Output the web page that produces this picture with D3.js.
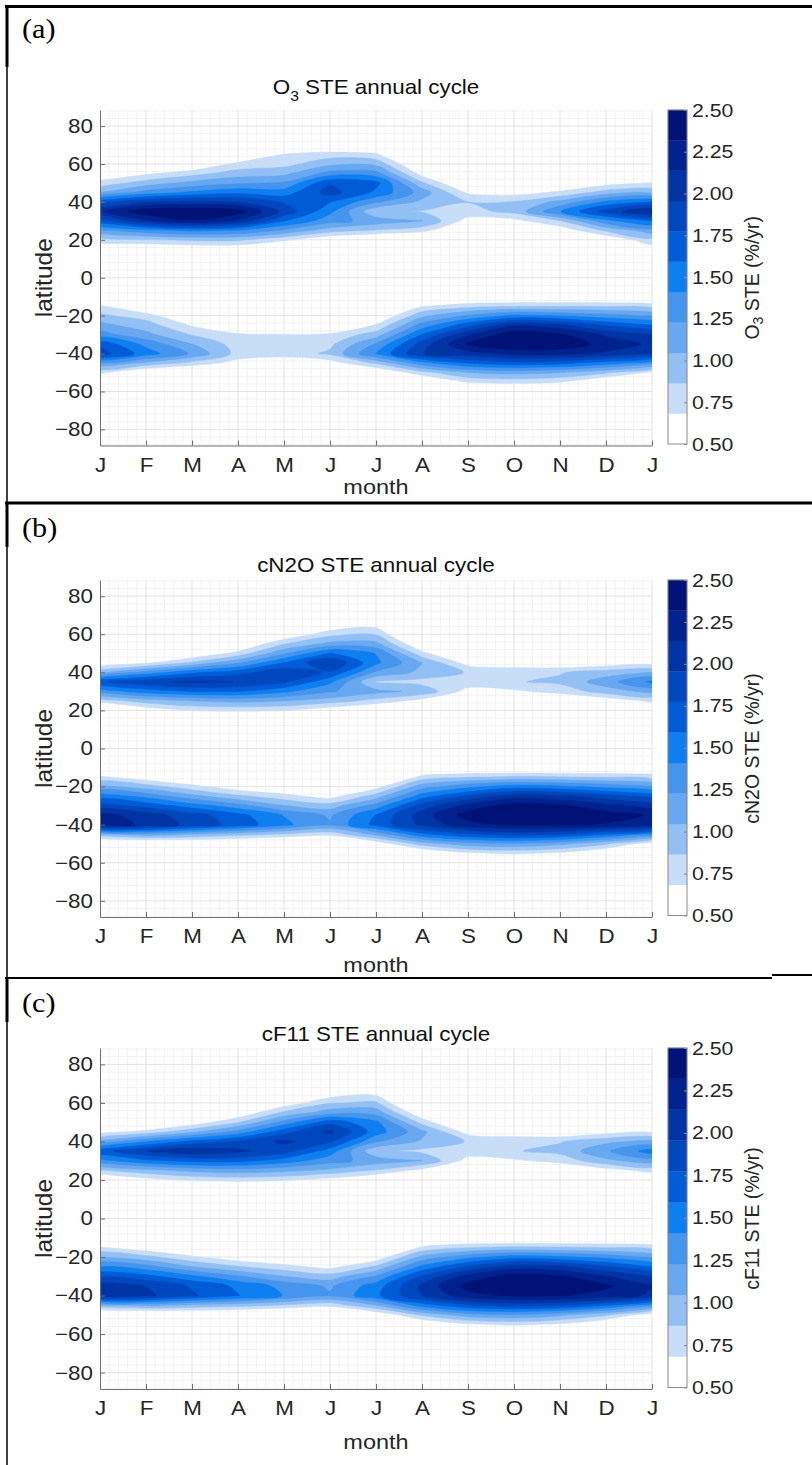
<!DOCTYPE html>
<html>
<head>
<meta charset="utf-8">
<script src="https://cdn.jsdelivr.net/npm/d3@7"></script>
<style>
  body { margin: 0; background: #fff; }
  svg text { font-family: "Liberation Sans", Arial, Helvetica, sans-serif; fill: #262626; }
</style>
</head>
<body>
<script>
// month tick labels (J ... J) and latitude ticks
const months = ['J', 'F', 'M', 'A', 'M', 'J', 'J', 'A', 'S', 'O', 'N', 'D', 'J'];
const latTicks = [80, 60, 40, 20, 0, -20, -40, -60, -80];
const cbTicks = [0.5, 0.75, 1, 1.25, 1.5, 1.75, 2, 2.25, 2.5];

// contour levels (11 filled bands between 0.5 and 2.5) and their colours
const levels = [0.5, 0.682, 0.864, 1.045, 1.227, 1.409, 1.591, 1.773, 1.955, 2.136, 2.318, 2.5];
const bandColors = ['#ffffff', '#c8ddf8', '#93c0f4', '#68a8f0', '#4594ee', '#0e7ff1',
                    '#005bd6', '#0047bd', '#0034a4', '#00228e', '#001277'];

// grid of the fields: columns = month (0 = J ... 12 = J), rows = latitude
const gridMonths = [0, 1, 2, 3, 4, 5, 6, 7, 8, 9, 10, 11, 12];
const gridLats = [75, 70, 65, 60, 55, 50, 45, 40, 35, 30, 25, 20, 15, 10, 5, 0,
                  -5, -10, -15, -20, -25, -30, -35, -40, -45, -50, -55, -60, -65];

// (a) O3 STE (%/yr)
const o3Rows = [
  [0, 0, 0, 0, 0, 0.1, 0, 0, 0, 0, 0, 0, 0],
  [0, 0, 0, 0.1, 0.3, 0.4, 0.35, 0, 0, 0, 0, 0, 0],
  [0, 0.1, 0.15, 0.4, 0.7, 0.78, 0.72, 0.15, 0, 0, 0, 0, 0],
  [0.2, 0.35, 0.45, 0.75, 0.8, 1.0, 1.0, 0.4, 0, 0, 0, 0.1, 0.1],
  [0.5, 0.65, 0.8, 0.95, 1.0, 1.3, 1.3, 0.6, 0.15, 0.1, 0.15, 0.35, 0.4],
  [0.75, 0.95, 1.1, 1.2, 1.25, 1.75, 1.65, 0.9, 0.4, 0.35, 0.45, 0.6, 0.7],
  [1.05, 1.3, 1.45, 1.55, 1.5, 1.85, 1.55, 1.15, 0.65, 0.6, 0.72, 0.95, 1.0],
  [1.7, 1.95, 2.0, 1.95, 1.75, 1.6, 1.25, 1.0, 0.87, 0.88, 1.1, 1.45, 1.6],
  [2.1, 2.45, 2.5, 2.4, 1.9, 1.45, 0.9, 0.85, 0.8, 0.92, 1.4, 1.85, 2.15],
  [1.7, 2.1, 2.3, 2.1, 1.6, 1.3, 1.15, 1.05, 0.6, 0.62, 0.85, 1.35, 1.6],
  [1.2, 1.35, 1.45, 1.4, 1.2, 0.95, 0.85, 0.75, 0.4, 0.4, 0.55, 0.9, 1.15],
  [0.78, 0.85, 0.9, 0.9, 0.72, 0.5, 0.4, 0.3, 0.1, 0.1, 0.3, 0.5, 0.82],
  [0.5, 0.45, 0.5, 0.5, 0.35, 0.2, 0.15, 0.1, 0, 0, 0.1, 0.3, 0.55],
  [0.2, 0.2, 0.2, 0.2, 0.1, 0, 0, 0, 0, 0, 0, 0.1, 0.2],
  [0, 0, 0, 0, 0, 0, 0, 0, 0, 0, 0, 0, 0],
  [0, 0, 0, 0, 0, 0, 0, 0, 0, 0, 0, 0, 0],
  [0.1, 0, 0, 0, 0, 0, 0, 0.05, 0.1, 0.1, 0.1, 0.1, 0.1],
  [0.4, 0.15, 0, 0, 0, 0, 0, 0.3, 0.4, 0.4, 0.4, 0.4, 0.4],
  [0.72, 0.4, 0.15, 0, 0, 0, 0.15, 0.67, 0.8, 0.85, 0.85, 0.85, 0.8],
  [0.9, 0.78, 0.4, 0.15, 0.1, 0.15, 0.45, 1.0, 1.25, 1.45, 1.4, 1.3, 1.2],
  [1.1, 0.95, 0.66, 0.4, 0.35, 0.4, 0.7, 1.3, 1.7, 2.1, 2.0, 1.75, 1.6],
  [1.3, 1.1, 0.85, 0.72, 0.7, 0.72, 0.95, 1.6, 2.1, 2.45, 2.35, 2.1, 1.95],
  [1.72, 1.35, 1.05, 0.78, 0.76, 0.82, 1.25, 1.85, 2.35, 2.5, 2.45, 2.25, 2.1],
  [1.85, 1.5, 1.2, 0.8, 0.76, 0.9, 1.42, 1.95, 2.05, 2.2, 2.2, 2.1, 1.95],
  [1.2, 1.0, 0.8, 0.6, 0.55, 0.58, 0.9, 1.35, 1.6, 1.7, 1.65, 1.5, 1.3],
  [0.72, 0.45, 0.35, 0.25, 0.2, 0.25, 0.45, 0.8, 1.05, 1.1, 1.05, 0.9, 0.65],
  [0.4, 0.15, 0.1, 0, 0, 0, 0.15, 0.4, 0.7, 0.75, 0.7, 0.45, 0.3],
  [0.1, 0, 0, 0, 0, 0, 0, 0.1, 0.3, 0.3, 0.3, 0.1, 0.05],
  [0, 0, 0, 0, 0, 0, 0, 0, 0.05, 0.05, 0.05, 0, 0]
];

// (b) cN2O STE (%/yr)
const n2oRows = [
  [0, 0, 0, 0, 0, 0, 0, 0, 0, 0, 0, 0, 0],
  [0, 0, 0, 0, 0, 0.1, 0.2, 0, 0, 0, 0, 0, 0],
  [0, 0, 0, 0, 0.2, 0.5, 0.6, 0, 0, 0, 0, 0, 0],
  [0, 0, 0, 0.15, 0.5, 0.8, 0.85, 0.2, 0, 0, 0, 0, 0],
  [0, 0, 0.2, 0.45, 0.85, 1.1, 1.1, 0.45, 0, 0, 0, 0, 0],
  [0.15, 0.3, 0.5, 0.75, 1.2, 1.6, 1.4, 0.75, 0.3, 0.2, 0.2, 0.2, 0.2],
  [0.5, 0.65, 0.9, 1.2, 1.6, 1.95, 1.45, 1.05, 0.6, 0.55, 0.5, 0.55, 0.6],
  [1.0, 1.3, 1.55, 1.7, 1.9, 1.75, 1.2, 1.0, 0.85, 0.82, 0.85, 0.95, 1.05],
  [1.75, 1.9, 2.0, 1.95, 1.8, 1.45, 0.85, 0.8, 0.8, 0.85, 0.9, 1.15, 1.45],
  [1.3, 1.5, 1.6, 1.6, 1.45, 1.25, 1.1, 1.0, 0.6, 0.65, 0.75, 0.95, 1.1],
  [0.75, 0.95, 1.05, 1.1, 1.05, 0.95, 0.8, 0.6, 0.35, 0.35, 0.45, 0.55, 0.72],
  [0.3, 0.55, 0.7, 0.72, 0.7, 0.55, 0.4, 0.2, 0, 0, 0, 0.3, 0.4],
  [0, 0.2, 0.3, 0.3, 0.2, 0.1, 0, 0, 0, 0, 0, 0, 0],
  [0, 0, 0, 0, 0, 0, 0, 0, 0, 0, 0, 0, 0],
  [0, 0, 0, 0, 0, 0, 0, 0, 0, 0, 0, 0, 0],
  [0, 0, 0, 0, 0, 0, 0, 0, 0, 0, 0, 0, 0],
  [0.1, 0, 0, 0, 0, 0, 0, 0.1, 0.1, 0.1, 0.1, 0.1, 0.1],
  [0.35, 0.25, 0, 0, 0, 0, 0, 0.35, 0.4, 0.4, 0.4, 0.4, 0.4],
  [0.72, 0.55, 0.4, 0.25, 0.15, 0, 0.2, 0.75, 0.85, 0.9, 0.88, 0.85, 0.8],
  [1.1, 0.95, 0.75, 0.55, 0.45, 0.35, 0.6, 1.15, 1.35, 1.5, 1.45, 1.35, 1.25],
  [1.5, 1.35, 1.1, 0.9, 0.75, 0.6, 0.95, 1.5, 1.8, 2.05, 2.0, 1.85, 1.7],
  [1.85, 1.7, 1.5, 1.3, 1.05, 0.95, 1.3, 1.85, 2.2, 2.4, 2.35, 2.2, 2.05],
  [2.2, 2.05, 1.85, 1.65, 1.4, 1.2, 1.6, 2.05, 2.4, 2.5, 2.48, 2.4, 2.3],
  [2.25, 2.1, 1.9, 1.7, 1.45, 1.25, 1.65, 2.0, 2.25, 2.35, 2.35, 2.3, 2.25],
  [1.0, 1.15, 1.05, 0.95, 0.85, 0.75, 1.1, 1.55, 1.75, 1.85, 1.8, 1.6, 1.35],
  [0.3, 0.35, 0.4, 0.35, 0.3, 0.3, 0.55, 0.95, 1.15, 1.2, 1.1, 0.9, 0.55],
  [0, 0.05, 0, 0, 0, 0, 0.15, 0.45, 0.65, 0.72, 0.65, 0.45, 0.15],
  [0, 0, 0, 0, 0, 0, 0, 0.1, 0.25, 0.3, 0.25, 0.1, 0],
  [0, 0, 0, 0, 0, 0, 0, 0, 0, 0, 0, 0, 0]
];

// (c) cF11 STE (%/yr)
const f11Rows = [
  [0, 0, 0, 0, 0, 0, 0, 0, 0, 0, 0, 0, 0],
  [0, 0, 0, 0, 0, 0.15, 0.2, 0, 0, 0, 0, 0, 0],
  [0, 0, 0, 0, 0.25, 0.55, 0.62, 0, 0, 0, 0, 0, 0],
  [0, 0, 0, 0.2, 0.55, 0.85, 0.9, 0.2, 0, 0, 0, 0, 0],
  [0, 0, 0.2, 0.5, 0.9, 1.15, 1.15, 0.5, 0, 0, 0, 0, 0],
  [0.2, 0.35, 0.55, 0.85, 1.3, 1.7, 1.45, 0.8, 0.3, 0.2, 0.2, 0.25, 0.25],
  [0.6, 0.75, 1.0, 1.3, 1.7, 2.0, 1.5, 1.1, 0.6, 0.55, 0.5, 0.6, 0.65],
  [1.1, 1.4, 1.65, 1.8, 2.0, 1.8, 1.25, 1.02, 0.85, 0.82, 0.85, 1.0, 1.1],
  [1.7, 1.95, 2.1, 2.0, 1.85, 1.5, 0.9, 0.82, 0.8, 0.85, 0.92, 1.2, 1.5],
  [1.35, 1.55, 1.65, 1.65, 1.5, 1.3, 1.15, 1.05, 0.6, 0.65, 0.75, 1.0, 1.15],
  [0.85, 1.0, 1.1, 1.15, 1.1, 1.0, 0.85, 0.62, 0.35, 0.35, 0.45, 0.6, 0.75],
  [0.4, 0.6, 0.72, 0.75, 0.72, 0.6, 0.45, 0.25, 0, 0, 0, 0.3, 0.42],
  [0, 0.25, 0.3, 0.3, 0.2, 0.1, 0, 0, 0, 0, 0, 0, 0],
  [0, 0, 0, 0, 0, 0, 0, 0, 0, 0, 0, 0, 0],
  [0, 0, 0, 0, 0, 0, 0, 0, 0, 0, 0, 0, 0],
  [0, 0, 0, 0, 0, 0, 0, 0, 0, 0, 0, 0, 0],
  [0.1, 0, 0, 0, 0, 0, 0, 0.1, 0.1, 0.1, 0.1, 0.1, 0.1],
  [0.35, 0.25, 0, 0, 0, 0, 0, 0.35, 0.4, 0.4, 0.4, 0.4, 0.4],
  [0.7, 0.55, 0.4, 0.25, 0.15, 0, 0.2, 0.72, 0.85, 0.9, 0.88, 0.85, 0.8],
  [1.05, 0.92, 0.72, 0.55, 0.45, 0.35, 0.55, 1.1, 1.35, 1.5, 1.45, 1.35, 1.2],
  [1.4, 1.3, 1.05, 0.88, 0.75, 0.62, 0.9, 1.45, 1.8, 2.05, 2.0, 1.8, 1.6],
  [1.75, 1.65, 1.45, 1.25, 1.05, 0.95, 1.25, 1.8, 2.2, 2.4, 2.35, 2.15, 1.95],
  [2.05, 1.95, 1.75, 1.55, 1.35, 1.2, 1.5, 2.0, 2.38, 2.5, 2.47, 2.35, 2.15],
  [2.1, 2.0, 1.8, 1.6, 1.4, 1.25, 1.55, 1.95, 2.25, 2.35, 2.33, 2.25, 2.1],
  [1.0, 1.1, 1.0, 0.95, 0.85, 0.75, 1.05, 1.5, 1.75, 1.85, 1.8, 1.6, 1.3],
  [0.3, 0.35, 0.4, 0.35, 0.3, 0.3, 0.5, 0.9, 1.15, 1.2, 1.1, 0.9, 0.55],
  [0, 0, 0, 0, 0, 0, 0.15, 0.45, 0.65, 0.72, 0.65, 0.45, 0.15],
  [0, 0, 0, 0, 0, 0, 0, 0.1, 0.25, 0.3, 0.25, 0.1, 0],
  [0, 0, 0, 0, 0, 0, 0, 0, 0, 0, 0, 0, 0]
];

const W = 812, H = 1465;
const SX = 1.12;            // the figure is stretched a little horizontally
const axisColor = '#6e6e6e';

const panels = [
  { id: 'a', letter: '(a)', rows: o3Rows, top: 110, bottom: 445.5, titleY: 94, letterY: 38, xPad: 12, monthY: 494,
    title: [['O'], ['3', 'sub'], [' STE annual cycle']], cbLabel: [['O'], ['3', 'sub'], [' STE (%/yr)']] },
  { id: 'b', letter: '(b)', rows: n2oRows, top: 580, bottom: 917, titleY: 572, letterY: 537, xPad: 12, monthY: 972,
    title: [['cN2O STE annual cycle']], cbLabel: [['cN2O STE (%/yr)']] },
  { id: 'c', letter: '(c)', rows: f11Rows, top: 1048, bottom: 1389, titleY: 1041, letterY: 1012, xPad: 12, monthY: 1449,
    title: [['cF11 STE annual cycle']], cbLabel: [['cF11 STE (%/yr)']] }
];

const svg = d3.select('body').append('svg')
  .attr('width', W)
  .attr('height', H)
  .attr('viewBox', `0 0 ${W} ${H}`);

svg.append('rect').attr('width', W).attr('height', H).attr('fill', '#fff');

const x = d3.scaleLinear().domain([0, 12]).range([100, 652]);

// horizontal stretch of a text element around its anchor
function stretch(sel) {
  sel.each(function () {
    const t = d3.select(this);
    const x0 = +t.attr('x') || 0;
    t.attr('transform', `translate(${x0},0) scale(${SX},1) translate(${-x0},0)`);
  });
}

function addParts(text, parts, subSize, shift) {
  parts.forEach(p => {
    const ts = text.append('tspan').text(p[0]);
    if (p[1] === 'sub') ts.attr('font-size', subSize).attr('dy', shift);
    else if (text.selectAll('tspan').size() > 1) ts.attr('dy', -shift);
  });
}

const ringLine = d3.line().curve(d3.curveCatmullRomClosed.alpha(0.5));

function drawPanel(p) {
  const y = d3.scaleLinear().domain([-88.5, 88.5]).range([p.bottom, p.top]);
  const g = svg.append('g');

  svg.append('clipPath').attr('id', 'clip-' + p.id)
    .append('rect')
    .attr('x', x(0)).attr('y', p.top)
    .attr('width', x(12) - x(0)).attr('height', p.bottom - p.top);

  // grid (minor then major)
  const minorX = d3.range(61).filter(i => i % 5 !== 0).map(i => i / 5);
  const minorY = d3.range(-88, 89, 4).filter(v => v % 20 !== 0);
  const grid = g.append('g').attr('stroke-width', 1);
  grid.selectAll('.mx').data(minorX).join('line')
    .attr('x1', d => x(d)).attr('x2', d => x(d)).attr('y1', p.top).attr('y2', p.bottom)
    .attr('stroke', '#f2f2f2');
  grid.selectAll('.my').data(minorY).join('line')
    .attr('x1', x(0)).attr('x2', x(12)).attr('y1', d => y(d)).attr('y2', d => y(d))
    .attr('stroke', '#f2f2f2');
  grid.selectAll('.gx').data(d3.range(1, 13)).join('line')
    .attr('x1', d => x(d)).attr('x2', d => x(d)).attr('y1', p.top).attr('y2', p.bottom)
    .attr('stroke', '#e3e3e3');
  grid.selectAll('.gy').data(latTicks).join('line')
    .attr('x1', x(0)).attr('x2', x(12)).attr('y1', d => y(d)).attr('y2', d => y(d))
    .attr('stroke', '#e3e3e3');

  // filled contours
  const nx = gridMonths.length, ny = gridLats.length;
  const colToMonth = d3.scaleLinear().domain([0.5, nx - 0.5]).range([gridMonths[0], gridMonths[nx - 1]]);
  const rowToLat = d3.scaleLinear().domain([0.5, ny - 0.5]).range([gridLats[0], gridLats[ny - 1]]);
  const contours = d3.contours()
    .size([nx, ny])
    .thresholds(levels.slice(1, -1))(p.rows.flat());

  // each ring drawn as a smooth closed curve through the contour points
  const bandPath = mp => mp.coordinates.map(poly => poly.map(ring =>
    ringLine(ring.slice(0, -1).map(([px, py]) => [x(colToMonth(px)), y(rowToLat(py))]))
  ).join('')).join('');

  g.append('g')
    .attr('clip-path', `url(#clip-${p.id})`)
    .selectAll('path')
    .data(contours)
    .join('path')
    .attr('d', bandPath)
    .attr('fill', d => bandColors[levels.indexOf(d.value)])
    .attr('stroke', d => bandColors[levels.indexOf(d.value)])
    .attr('stroke-width', 0.4);

  // axes
  const yAxis = g.append('g')
    .attr('transform', `translate(${x(0)},0)`)
    .call(d3.axisLeft(y).tickValues(latTicks).tickSizeInner(-5).tickSizeOuter(0).tickPadding(7));
  const xAxis = g.append('g')
    .attr('transform', `translate(0,${p.bottom})`)
    .call(d3.axisBottom(x).tickValues(gridMonths).tickFormat((d, i) => months[i])
      .tickSizeInner(-5).tickSizeOuter(0).tickPadding(p.xPad));
  [yAxis, xAxis].forEach(a => {
    a.attr('font-size', 20).attr('font-family', null);
    a.select('.domain').attr('stroke', axisColor);
    a.selectAll('.tick line').attr('stroke', axisColor);
    a.selectAll('.tick text').attr('fill', '#262626').call(stretch);
  });

  // axis labels
  g.append('text')
    .attr('transform', `translate(43,${(p.top + p.bottom) / 2}) rotate(-90)`)
    .attr('text-anchor', 'middle')
    .attr('dominant-baseline', 'central')
    .attr('font-size', 24.5)
    .text('latitude');

  g.append('text')
    .attr('x', (x(0) + x(12)) / 2).attr('y', p.monthY)
    .attr('text-anchor', 'middle')
    .attr('font-size', 21)
    .text('month')
    .call(stretch);

  // title
  const title = g.append('text')
    .attr('x', (x(0) + x(12)) / 2).attr('y', p.titleY)
    .attr('text-anchor', 'middle')
    .attr('font-size', 20)
    .style('fill', '#111');
  addParts(title, p.title, 14, 7);
  title.call(stretch);

  // panel letter
  g.append('text')
    .attr('x', 22).attr('y', p.letterY)
    .style('font-family', '"Liberation Serif", "Times New Roman", serif')
    .style('fill', '#000')
    .attr('font-size', 27)
    .text(p.letter)
    .call(stretch);

  // colorbar
  const cbX = 668, cbW = 19;
  const cb = d3.scaleLinear().domain([0.5, 2.5]).range([p.bottom - 1.5, p.top]);
  const cg = g.append('g');
  cg.selectAll('rect.band')
    .data(bandColors)
    .join('rect')
    .attr('x', cbX)
    .attr('y', (d, i) => cb(levels[i + 1]))
    .attr('width', cbW)
    .attr('height', (d, i) => cb(levels[i]) - cb(levels[i + 1]))
    .attr('fill', d => d)
    .attr('stroke', d => d)
    .attr('stroke-width', 0.3);
  cg.append('rect')
    .attr('x', cbX).attr('y', cb(2.5))
    .attr('width', cbW).attr('height', cb(0.5) - cb(2.5))
    .attr('fill', 'none').attr('stroke', '#8a8a8a').attr('stroke-width', 1);
  const cbAxis = cg.append('g')
    .attr('transform', `translate(${cbX + cbW},0)`)
    .call(d3.axisRight(cb).tickValues(cbTicks).tickFormat(d3.format('.2f'))
      .tickSizeInner(-3).tickSizeOuter(0).tickPadding(5));
  cbAxis.attr('font-size', 19).attr('font-family', null);
  cbAxis.select('.domain').remove();
  cbAxis.selectAll('.tick line').attr('stroke', '#8a8a8a');
  cbAxis.selectAll('.tick text').attr('fill', '#262626').call(stretch);

  const cbl = g.append('text')
    .attr('transform', `translate(752,${(p.top + p.bottom) / 2}) rotate(-90)`)
    .attr('text-anchor', 'middle')
    .attr('dominant-baseline', 'central')
    .attr('font-size', 19.5);
  addParts(cbl, p.cbLabel, 14, 6);
}

panels.forEach(drawPanel);

// frame lines of the figure table
const frame = svg.append('g').attr('stroke', '#000').attr('fill', 'none');
frame.append('line').attr('x1', 5).attr('x2', W).attr('y1', 6.5).attr('y2', 6.5).attr('stroke-width', 3);
frame.append('line').attr('x1', 7).attr('x2', 7).attr('y1', 5).attr('y2', H).attr('stroke-width', 1.5);
[[5, 67], [503, 547], [978, 1022]].forEach(s =>
  frame.append('line').attr('x1', 7).attr('x2', 7).attr('y1', s[0]).attr('y2', s[1]).attr('stroke-width', 3));
frame.append('line').attr('x1', 5).attr('x2', W).attr('y1', 503).attr('y2', 503).attr('stroke-width', 3);
frame.append('line').attr('x1', 5).attr('x2', 772).attr('y1', 978).attr('y2', 978).attr('stroke-width', 2);
frame.append('line').attr('x1', 772).attr('x2', W).attr('y1', 975).attr('y2', 975).attr('stroke-width', 2);
</script>
</body>
</html>
